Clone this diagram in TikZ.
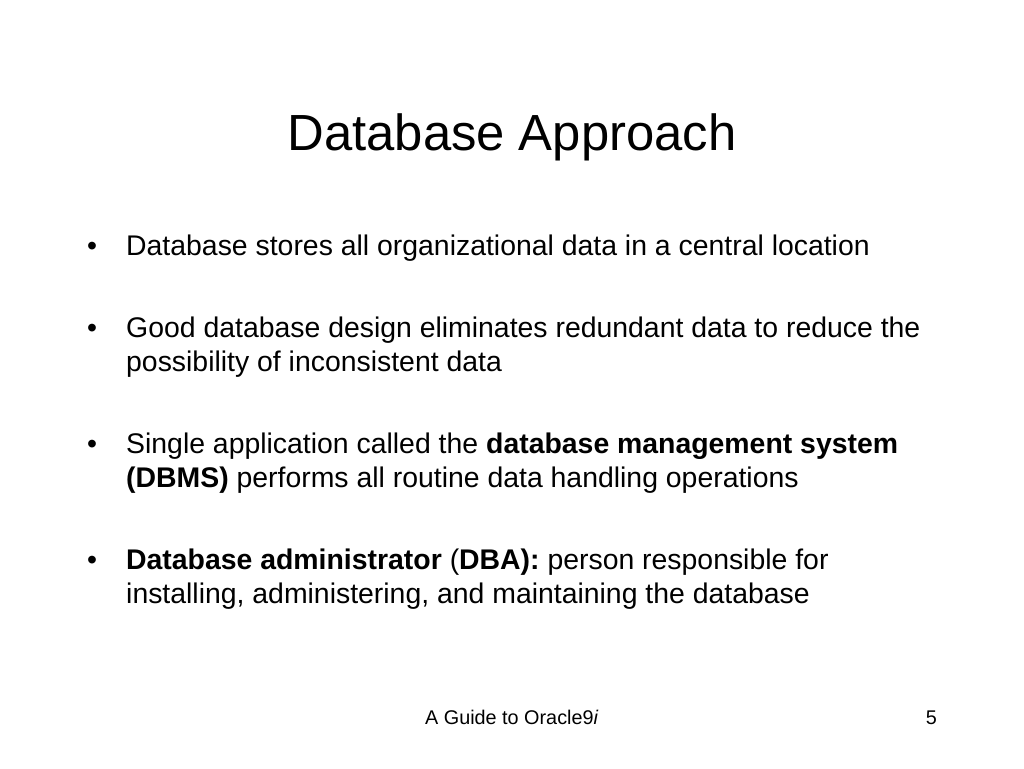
\documentclass[tikz,border=0pt]{standalone}
\usepackage{fontspec}
\setmainfont{Liberation Sans}
\begin{document}
\begin{tikzpicture}[x=1pt,y=-1pt,
  body/.style={anchor=base west,inner sep=0pt,font=\fontsize{28.4}{34}\selectfont},
  title/.style={anchor=base,inner sep=0pt,font=\fontsize{50.8}{60}\selectfont},
  foot/.style={inner sep=0pt,font=\fontsize{19.8}{24}\selectfont}]
\fill[white] (0,0) rectangle (1024,768);
\useasboundingbox (0,0) rectangle (1024,768);
\node[title] (t) at (512,150) {Database Approach};
% bullets
\node[body] (b1) at (87,255) {•};
\node[body] (l1) at (126,255) {Database stores all organizational data in a central location};
\node[body] (b2) at (87,337) {•};
\node[body] (l2) at (126,337) {Good database design eliminates redundant data to reduce the};
\node[body] (l3) at (126,371) {possibility of inconsistent data};
\node[body] (b3) at (87,453) {•};
\node[body] (l4) at (126,453) {Single application called the \textbf{database management system}};
\node[body] (l5) at (126,487) {\textbf{(DBMS)} performs all routine data handling operations};
\node[body] (b4) at (87,569) {•};
\node[body] (l6) at (126,569) {\textbf{Database administrator} (\textbf{DBA):} person responsible for};
\node[body] (l7) at (126,603) {installing, administering, and maintaining the database};
% footer
\node[foot,anchor=base west] (f1) at (425,724) {A Guide to Oracle9\textit{i}};
\node[foot,anchor=base east] (f2) at (937,724) {5};
\end{tikzpicture}
\end{document}
